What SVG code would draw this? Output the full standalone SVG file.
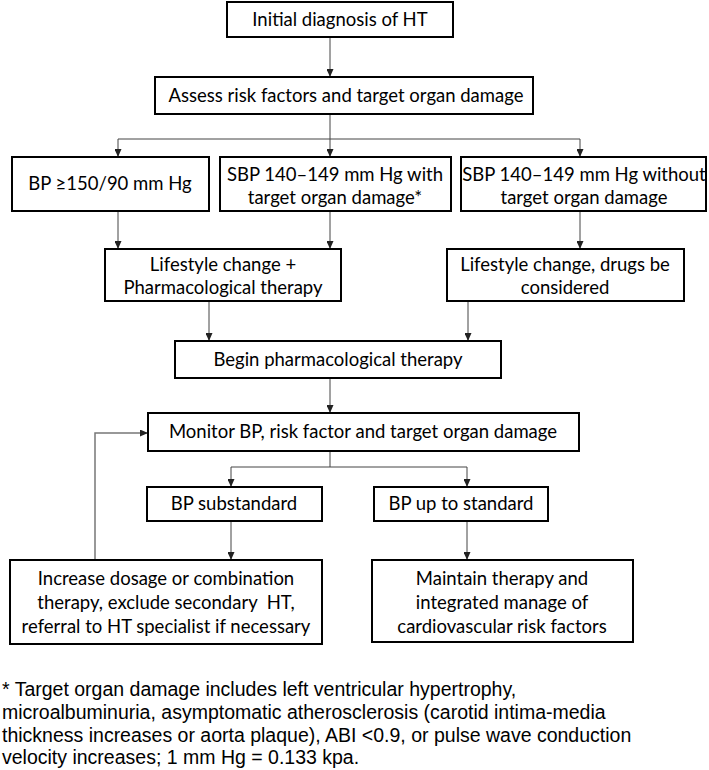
<svg xmlns="http://www.w3.org/2000/svg" width="709" height="770" viewBox="0 0 709 770">
<style>
.box{fill:#fff;stroke:#000;stroke-width:2}
.t{font-family:Lato,"Liberation Sans",Arial,sans-serif;font-size:18.5px;fill:#000;text-anchor:middle}
.fn{font-family:"Liberation Sans",Arial,sans-serif;font-size:19.5px;fill:#000}
.c{fill:none;stroke:#444;stroke-width:1}
.fb{fill:none;stroke:#777;stroke-width:1.5}
</style>
<defs>
<marker id="ah" markerUnits="userSpaceOnUse" markerWidth="8" markerHeight="7" refX="8" refY="3.5" orient="auto">
<path d="M0,0 L8,3.5 L0,7 z" fill="#222"/>
</marker>
</defs>
<rect width="709" height="770" fill="#fff"/>
<g id="connectors">
<line class="c" x1="330" y1="37" x2="330" y2="77" marker-end="url(#ah)"/>
<line class="c" x1="330" y1="114" x2="330" y2="139"/>
<line class="c" x1="118" y1="139" x2="580" y2="139"/>
<line class="c" x1="118" y1="139" x2="118" y2="157" marker-end="url(#ah)"/>
<line class="c" x1="330" y1="139" x2="330" y2="157" marker-end="url(#ah)"/>
<line class="c" x1="580" y1="139" x2="580" y2="157" marker-end="url(#ah)"/>
<line class="c" x1="118" y1="211" x2="118" y2="249" marker-end="url(#ah)"/>
<line class="c" x1="330" y1="211" x2="330" y2="249" marker-end="url(#ah)"/>
<line class="c" x1="580" y1="211" x2="580" y2="249" marker-end="url(#ah)"/>
<line class="c" x1="209" y1="301" x2="209" y2="341" marker-end="url(#ah)"/>
<line class="c" x1="468" y1="301" x2="468" y2="341" marker-end="url(#ah)"/>
<line class="c" x1="330" y1="378" x2="330" y2="413" marker-end="url(#ah)"/>
<line class="c" x1="330" y1="451" x2="330" y2="467"/>
<line class="c" x1="231" y1="467" x2="467" y2="467"/>
<line class="c" x1="231" y1="467" x2="231" y2="487" marker-end="url(#ah)"/>
<line class="c" x1="467" y1="467" x2="467" y2="487" marker-end="url(#ah)"/>
<line class="c" x1="231" y1="521" x2="231" y2="560" marker-end="url(#ah)"/>
<line class="c" x1="467" y1="521" x2="467" y2="560" marker-end="url(#ah)"/>
<polyline class="fb" points="95,560 95,433 148,433" marker-end="url(#ah)"/>
</g>
<g id="n1"><rect class="box" x="227" y="2" width="226" height="35"/><text class="t" x="340" y="26">Initial diagnosis of HT</text></g>
<g id="n2"><rect class="box" x="155" y="77" width="378" height="37"/><text class="t" x="346" y="102">Assess risk factors and target organ damage</text></g>
<g id="n3a"><rect class="box" x="12" y="157" width="197" height="54"/><text class="t" x="110" y="190">BP ≥150/90 mm Hg</text></g>
<g id="n3b"><rect class="box" x="220" y="157" width="231" height="54"/><text class="t" x="335" y="181">SBP 140–149 mm Hg with</text><text class="t" x="335" y="204">target organ damage*</text></g>
<g id="n3c"><rect class="box" x="461" y="157" width="245" height="54"/><text class="t" x="584" y="181">SBP 140–149 mm Hg without</text><text class="t" x="584" y="204">target organ damage</text></g>
<g id="n4a"><rect class="box" x="105" y="249" width="236" height="52"/><text class="t" x="223" y="271">Lifestyle change +</text><text class="t" x="223" y="294">Pharmacological therapy</text></g>
<g id="n4b"><rect class="box" x="447" y="249" width="237" height="52"/><text class="t" x="565" y="271">Lifestyle change, drugs be</text><text class="t" x="565" y="294">considered</text></g>
<g id="n5"><rect class="box" x="175" y="341" width="326" height="37"/><text class="t" x="338" y="366">Begin pharmacological therapy</text></g>
<g id="n6"><rect class="box" x="148" y="413" width="431" height="38"/><text class="t" x="363" y="438">Monitor BP, risk factor and target organ damage</text></g>
<g id="n7a"><rect class="box" x="147" y="487" width="175" height="34"/><text class="t" x="234" y="510">BP substandard</text></g>
<g id="n7b"><rect class="box" x="374" y="487" width="174" height="34"/><text class="t" x="461" y="510">BP up to standard</text></g>
<g id="n8a"><rect class="box" x="10" y="560" width="312" height="84"/><text class="t" x="166" y="585">Increase dosage or combination</text><text class="t" x="166" y="609" xml:space="preserve">therapy, exclude secondary  HT,</text><text class="t" x="166" y="633">referral to HT specialist if necessary</text></g>
<g id="n8b"><rect class="box" x="372" y="560" width="261" height="82"/><text class="t" x="502" y="585">Maintain therapy and</text><text class="t" x="502" y="609">integrated manage of</text><text class="t" x="502" y="633">cardiovascular risk factors</text></g>
<g id="footnote">
<text class="fn" x="2" y="696">* Target organ damage includes left ventricular hypertrophy,</text>
<text class="fn" x="2" y="719">microalbuminuria, asymptomatic atherosclerosis (carotid intima-media</text>
<text class="fn" x="2" y="742">thickness increases or aorta plaque), ABI &lt;0.9, or pulse wave conduction</text>
<text class="fn" x="2" y="764">velocity increases; 1 mm Hg = 0.133 kpa.</text>
</g>
</svg>
